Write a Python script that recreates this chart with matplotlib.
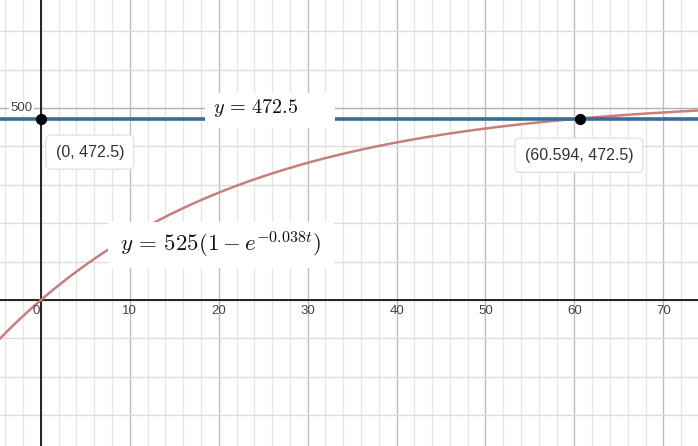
import numpy as np
import matplotlib
matplotlib.use("Agg")
import matplotlib.pyplot as plt
from matplotlib.patches import Rectangle

# Data
amplitude = 525
rate = 0.038
level = 472.5
x_intersect = 60.594
points_x = [0, x_intersect]
points_y = [level, level]
point_labels = ["(0, 472.5)", "(60.594, 472.5)"]
x_tick_vals = [0, 10, 20, 30, 40, 50, 60, 70]
y_tick_vals = [500]

plt.rcParams['mathtext.fontset'] = 'cm'

fig = plt.figure(figsize=(6.98, 4.46), dpi=100)
ax = fig.add_axes([0, 0, 1, 1])
xmin, xmax = -4.6, 73.9
ymin, ymax = -380, 781
ax.set_xlim(xmin, xmax)
ax.set_ylim(ymin, ymax)

# grid
for xv in np.arange(-4, 74, 2):
    major = (xv % 10 == 0)
    ax.axvline(xv, color='#bdbdbd' if major else '#e6e6e6', lw=1.0, zorder=0)
for yv in np.arange(-300, 800, 100):
    major = (yv % 500 == 0)
    ax.axhline(yv, color='#b0b0b0' if major else '#dcdcdc', lw=1.0, zorder=0)

ax.axvline(0, color='#222222', lw=1.4, zorder=1)
ax.axhline(0, color='#222222', lw=1.4, zorder=1)

for s in ax.spines.values():
    s.set_visible(False)
ax.set_xticks([])
ax.set_yticks([])

# tick labels
for xv in x_tick_vals:
    lx = xv - 0.55 if xv == 0 else xv
    ax.text(lx, -12, str(xv), ha='center', va='top', fontsize=9.5, color='#444444',
            family='Liberation Sans', zorder=3)
for yv in y_tick_vals:
    ax.text(-0.9, yv, str(yv), ha='right', va='center', fontsize=9.5, color='#444444',
            family='Liberation Sans', zorder=3,
            bbox=dict(boxstyle='square,pad=0.1', fc='white', ec='none'))

# curve
t = np.linspace(xmin, xmax, 400)
y = amplitude * (1 - np.exp(-rate * t))
ax.plot(t, y, color='#c97f79', lw=1.8, zorder=2)

# horizontal line
ax.axhline(level, color='#386d97', lw=2.6, zorder=2)

# points
ax.scatter(points_x, points_y, s=50, color='black', zorder=5)

# equation labels
ax.add_patch(Rectangle((18.45, 448), 33.1 - 18.45, 539 - 448, fc='white', ec='none', zorder=3))
ax.text(19.4, 500, r'$y\,=\,472.5$', ha='left', va='center', fontsize=14.5, color='#111111',
        zorder=4)
ax.add_patch(Rectangle((7.5, 83), 33.0 - 7.5, 203 - 83, fc='white', ec='none', zorder=3))
ax.text(8.9, 143, r'$y\,=\,525(1 - e^{-0.038t})$', ha='left', va='center', fontsize=16.5,
        color='#111111', zorder=4)

# point labels
ax.text(5.5, 385, point_labels[0], ha='center', va='center', fontsize=11.5, color='#333333',
        family='Liberation Sans', zorder=4,
        bbox=dict(boxstyle='round,pad=0.6,rounding_size=0.3', fc='white', ec='#e3e3e3', lw=1))
ax.text(60.5, 377, point_labels[1], ha='center', va='center', fontsize=11.5, color='#333333',
        family='Liberation Sans', zorder=4,
        bbox=dict(boxstyle='round,pad=0.6,rounding_size=0.3', fc='white', ec='#e3e3e3', lw=1))

fig.savefig('out.png', dpi=100)
